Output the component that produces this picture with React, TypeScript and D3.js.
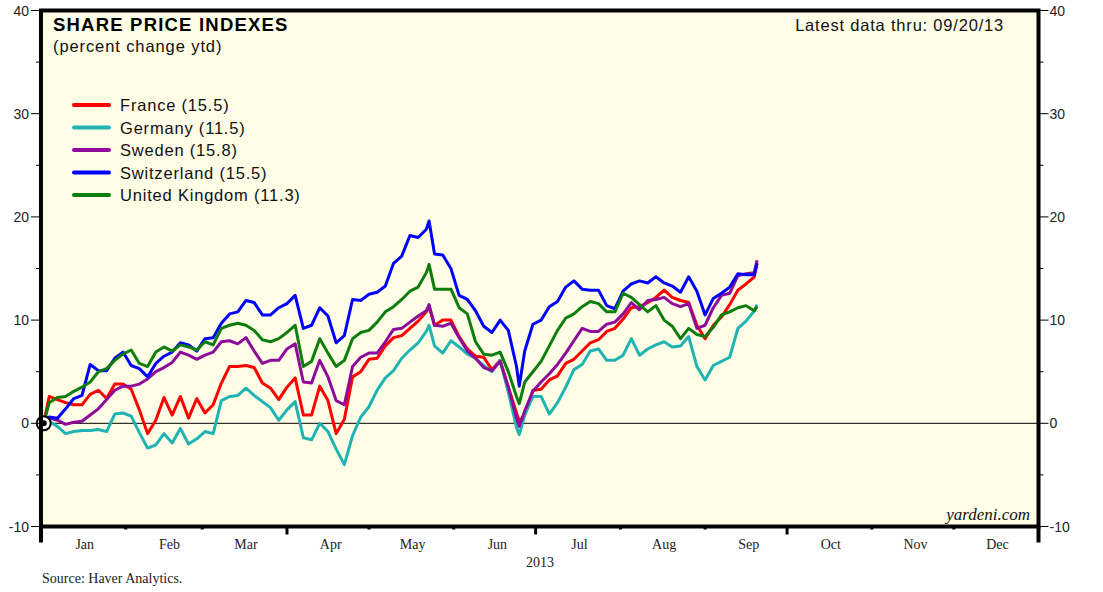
import React from "react";
import * as d3 from "d3";

// day offsets from Jan 1 2013 (shared by every series)
const dayOffsets = [
  1, 3, 6, 9, 12, 15, 18, 21, 24, 27, 30, 33, 36, 39, 42, 45, 48, 51, 54, 57, 60, 63, 66, 69, 72,
  75, 78, 81, 84, 87, 90, 93, 96, 99, 102, 105, 108, 111, 114, 117, 120, 123, 126, 129, 132, 135, 138, 141,
  142, 144, 147, 150, 153, 156, 159, 162, 165, 168, 171, 174, 175, 177, 180, 183, 186, 189, 192, 195, 198,
  201, 204, 207, 210, 213, 216, 219, 222, 225, 228, 231, 234, 237, 240, 243, 246, 249, 252, 255, 258, 261, 262,
];

const france = [
  0, 2.6, 2.3, 2.0, 1.8, 1.8, 2.8, 3.2, 2.4, 3.8, 3.8, 3.3, 1.3, -1.0, 0.3, 2.5, 0.8, 2.6, 0.5, 2.4, 1.0, 1.8, 3.9, 5.5, 5.5,
  5.6, 5.4, 3.9, 3.4, 2.3, 3.5, 4.4, 0.8, 0.8, 3.6, 2.2, -1.0, 0.4, 4.5, 5.0, 6.2, 6.3, 7.5, 8.3, 8.5, 9.2, 9.9, 10.8,
  11.3, 9.5, 10.0, 10.0, 8.4, 7.2, 6.5, 6.4, 5.2, 6.1, 3.5, 1.0, 0.2, 0.8, 3.2, 3.3, 4.2, 4.6, 5.8, 6.2, 7.0,
  7.8, 8.1, 8.9, 9.2, 10.1, 11.2, 11.3, 11.7, 12.2, 12.9, 12.2, 11.9, 11.7, 9.5, 8.2, 9.5, 10.3, 11.5, 12.9, 13.5, 14.2, 15.5,
];

const germany = [
  0, 0.2, -0.3, -1.0, -0.8, -0.7, -0.7, -0.6, -0.8, 0.9, 1.0, 0.7, -0.9, -2.4, -2.1, -1.0, -1.9, -0.5, -2.0, -1.5, -0.8, -1.0, 2.2, 2.6, 2.7,
  3.4, 2.7, 2.1, 1.5, 0.3, 1.3, 2.1, -1.4, -1.6, 0.0, -0.8, -2.5, -4.0, -1.2, 0.6, 1.6, 3.2, 4.4, 5.1, 6.3, 7.1, 7.8, 8.9,
  9.5, 7.5, 6.8, 8.0, 7.4, 6.7, 6.3, 5.6, 5.0, 6.1, 3.0, -0.4, -1.1, 0.8, 2.6, 2.6, 0.9, 2.0, 3.5, 5.2, 5.7,
  7.0, 7.2, 6.1, 6.1, 6.6, 8.2, 6.6, 7.2, 7.6, 7.9, 7.4, 7.5, 8.4, 5.5, 4.2, 5.6, 6.0, 6.4, 9.2, 9.9, 10.9, 11.5,
];

const sweden = [
  0, 0.5, 0.3, -0.1, 0.1, 0.2, 0.8, 1.4, 2.3, 3.2, 3.6, 3.6, 3.8, 4.3, 5.0, 5.4, 5.9, 6.9, 6.6, 6.2, 6.6, 6.9, 7.9, 8.0, 7.7,
  8.3, 7.0, 5.8, 6.1, 6.1, 7.2, 7.7, 4.0, 3.9, 6.1, 4.5, 2.2, 1.8, 5.5, 6.4, 6.8, 6.8, 7.9, 9.1, 9.2, 9.8, 10.4, 10.9,
  11.5, 9.5, 9.4, 9.7, 8.3, 7.0, 6.3, 5.4, 5.1, 6.0, 3.5, 0.5, -0.3, 1.2, 3.1, 4.0, 4.8, 5.7, 6.8, 8.0, 9.2,
  8.9, 8.9, 9.6, 9.8, 10.6, 11.7, 11.0, 11.9, 12.0, 12.2, 11.6, 11.3, 11.6, 9.2, 9.5, 11.2, 12.4, 12.6, 14.3, 14.5, 14.6, 15.8,
];

const switzerland = [
  0, 0.6, 0.5, 1.4, 2.4, 2.7, 5.7, 5.1, 5.1, 6.3, 6.9, 5.6, 5.3, 4.5, 5.8, 6.5, 6.9, 7.8, 7.6, 7.0, 8.2, 8.3, 9.7, 10.6, 10.8,
  11.9, 11.7, 10.5, 10.5, 11.2, 11.6, 12.4, 9.2, 9.5, 11.2, 10.4, 7.8, 8.5, 12.0, 11.9, 12.5, 12.7, 13.3, 15.5, 16.2, 18.2, 18.0, 18.8,
  19.6, 16.4, 16.3, 15.0, 12.4, 12.0, 10.9, 9.4, 8.8, 10.0, 9.0, 5.5, 3.6, 7.0, 9.6, 10.0, 11.3, 11.8, 13.2, 13.8, 13.0,
  12.9, 12.9, 11.4, 11.1, 12.8, 13.5, 13.8, 13.6, 14.2, 13.6, 13.3, 12.7, 14.2, 12.8, 10.5, 12.1, 12.6, 13.2, 14.5, 14.4, 14.4, 15.5,
];

const unitedKingdom = [
  0, 2.0, 2.5, 2.6, 3.1, 3.5, 4.0, 5.0, 5.3, 6.1, 6.7, 7.1, 5.8, 5.5, 6.9, 7.4, 7.0, 7.6, 7.4, 7.1, 7.9, 7.6, 9.2, 9.5, 9.7,
  9.5, 9.0, 8.1, 7.9, 8.2, 8.8, 9.5, 5.5, 6.0, 8.2, 6.8, 5.5, 6.1, 8.2, 8.8, 9.0, 9.8, 10.8, 11.3, 12.0, 12.8, 13.2, 14.6,
  15.4, 13.0, 13.0, 13.0, 11.2, 10.6, 7.9, 6.7, 6.6, 6.9, 5.0, 2.6, 1.9, 4.0, 5.0, 6.0, 7.5, 9.0, 10.2, 10.6, 11.3,
  11.8, 11.6, 10.8, 10.8, 12.6, 12.2, 11.5, 10.8, 11.4, 10.0, 9.4, 8.2, 9.2, 8.6, 8.4, 9.3, 10.5, 10.8, 11.2, 11.4, 10.9, 11.3,
];

const seriesNames = ["France (15.5)", "Germany (11.5)", "Sweden (15.8)", "Switzerland (15.5)", "United Kingdom (11.3)"];
const seriesColors = ["#ff0000", "#1fb3b3", "#8e0a9a", "#0000ff", "#0d7d0d"];
const seriesValues = [france, germany, sweden, switzerland, unitedKingdom];

const yTicks = [-10, 0, 10, 20, 30, 40];
const yMinorTicks = [-5, 5, 15, 25, 35];
const monthLabels = ["Jan", "Feb", "Mar", "Apr", "May", "Jun", "Jul", "Aug", "Sep", "Oct", "Nov", "Dec"];

const W = 1103;
const H = 592;
const plot = { left: 41, right: 1038.5, top: 10.5, bottom: 526.5 };
const sans = "'Liberation Sans', Arial, sans-serif";
const serif = "'Liberation Serif', 'Times New Roman', serif";

export default function App() {
  const yearStart = new Date(2013, 0, 1);
  const x = d3.scaleTime().domain([yearStart, new Date(2014, 0, 1)]).range([plot.left, plot.right]);
  const y = d3.scaleLinear().domain([-10, 40]).range([plot.bottom, plot.top]);

  const dates = dayOffsets.map((d) => d3.timeDay.offset(yearStart, d));
  const line = d3
    .line<number>()
    .x((_, i) => x(dates[i]))
    .y((v) => y(v));

  const monthStarts = x.ticks(d3.timeMonth.every(1)).concat([new Date(2014, 0, 1)]);

  return (
    <svg width={W} height={H} style={{ position: "absolute", left: 0, top: 0, background: "#fff" }}>
      <rect x={plot.left} y={plot.top} width={plot.right - plot.left} height={plot.bottom - plot.top} fill="#fffde6" />

      {/* zero line */}
      <line x1={plot.left} x2={plot.right} y1={y(0)} y2={y(0)} stroke="#000" strokeWidth={1} />

      {/* series */}
      {seriesValues.map((vals, i) => (
        <path
          key={seriesNames[i]}
          d={line(vals) ?? ""}
          fill="none"
          stroke={seriesColors[i]}
          strokeWidth={3}
          strokeLinejoin="round"
        />
      ))}

      {/* start marker */}
      <circle cx={x(dates[0])} cy={y(0)} r={7} fill="#fff" stroke="#000" strokeWidth={2} />
      <circle cx={x(dates[0])} cy={y(0)} r={3} fill="#000" />

      {/* frame */}
      <rect
        x={plot.left}
        y={plot.top}
        width={plot.right - plot.left}
        height={plot.bottom - plot.top}
        fill="none"
        stroke="#000"
        strokeWidth={4}
      />

      {/* y axes */}
      {yTicks.map((t) => (
        <g key={t}>
          <line x1={plot.left - 10} x2={plot.left} y1={y(t)} y2={y(t)} stroke="#000" strokeWidth={1} />
          <line x1={plot.right} x2={plot.right + 10} y1={y(t)} y2={y(t)} stroke="#000" strokeWidth={1} />
          <text x={plot.left - 12} y={y(t) + 5} textAnchor="end" fontFamily={sans} fontSize={14} fill="#222">
            {t}
          </text>
          <text x={plot.right + 11} y={y(t) + 5} textAnchor="start" fontFamily={sans} fontSize={14} fill="#222">
            {t}
          </text>
        </g>
      ))}
      {yMinorTicks.map((t) => (
        <g key={t}>
          <line x1={plot.left - 5} x2={plot.left} y1={y(t)} y2={y(t)} stroke="#000" strokeWidth={1} />
          <line x1={plot.right} x2={plot.right + 5} y1={y(t)} y2={y(t)} stroke="#000" strokeWidth={1} />
        </g>
      ))}

      {/* x axis ticks */}
      {monthStarts.map((d, i) => {
        const m = d.getMonth();
        const yearEdge = i === 0 || i === monthStarts.length - 1;
        const quarter = m % 3 === 0;
        const len = yearEdge ? 16 : quarter ? 8 : 3;
        return (
          <line
            key={i}
            x1={x(d)}
            x2={x(d)}
            y1={plot.bottom}
            y2={plot.bottom + len}
            stroke="#000"
            strokeWidth={yearEdge ? 4 : 3}
          />
        );
      })}
      {monthLabels.map((m, i) => {
        const mid = new Date(2013, i, 17);
        return (
          <text key={m} x={x(mid)} y={549} textAnchor="middle" fontFamily={serif} fontSize={14} fill="#222">
            {m}
          </text>
        );
      })}
      <text x={540} y={567} textAnchor="middle" fontFamily={serif} fontSize={14} fill="#222">
        2013
      </text>
      <text x={42} y={583} fontFamily={serif} fontSize={14} fill="#222">
        Source: Haver Analytics.
      </text>

      {/* titles */}
      <text x={53} y={31} fontFamily={sans} fontSize={18.5} fontWeight="bold" letterSpacing={1.2} fill="#000">
        SHARE PRICE INDEXES
      </text>
      <text x={53} y={52} fontFamily={sans} fontSize={16.5} letterSpacing={0.9} fill="#111">
        (percent change ytd)
      </text>
      <text x={1004} y={31} textAnchor="end" fontFamily={sans} fontSize={16.5} letterSpacing={0.8} fill="#111">
        Latest data thru: 09/20/13
      </text>
      <text x={1030} y={520} textAnchor="end" fontFamily={serif} fontSize={17} fontStyle="italic" fill="#111">
        yardeni.com
      </text>

      {/* legend */}
      {seriesNames.map((name, i) => {
        const ly = 105 + i * 22.5;
        return (
          <g key={name}>
            <line x1={74} x2={109} y1={ly} y2={ly} stroke={seriesColors[i]} strokeWidth={4} strokeLinecap="round" />
            <text x={120} y={ly + 6} fontFamily={sans} fontSize={16.5} letterSpacing={0.8} fill="#111">
              {name}
            </text>
          </g>
        );
      })}
    </svg>
  );
}
